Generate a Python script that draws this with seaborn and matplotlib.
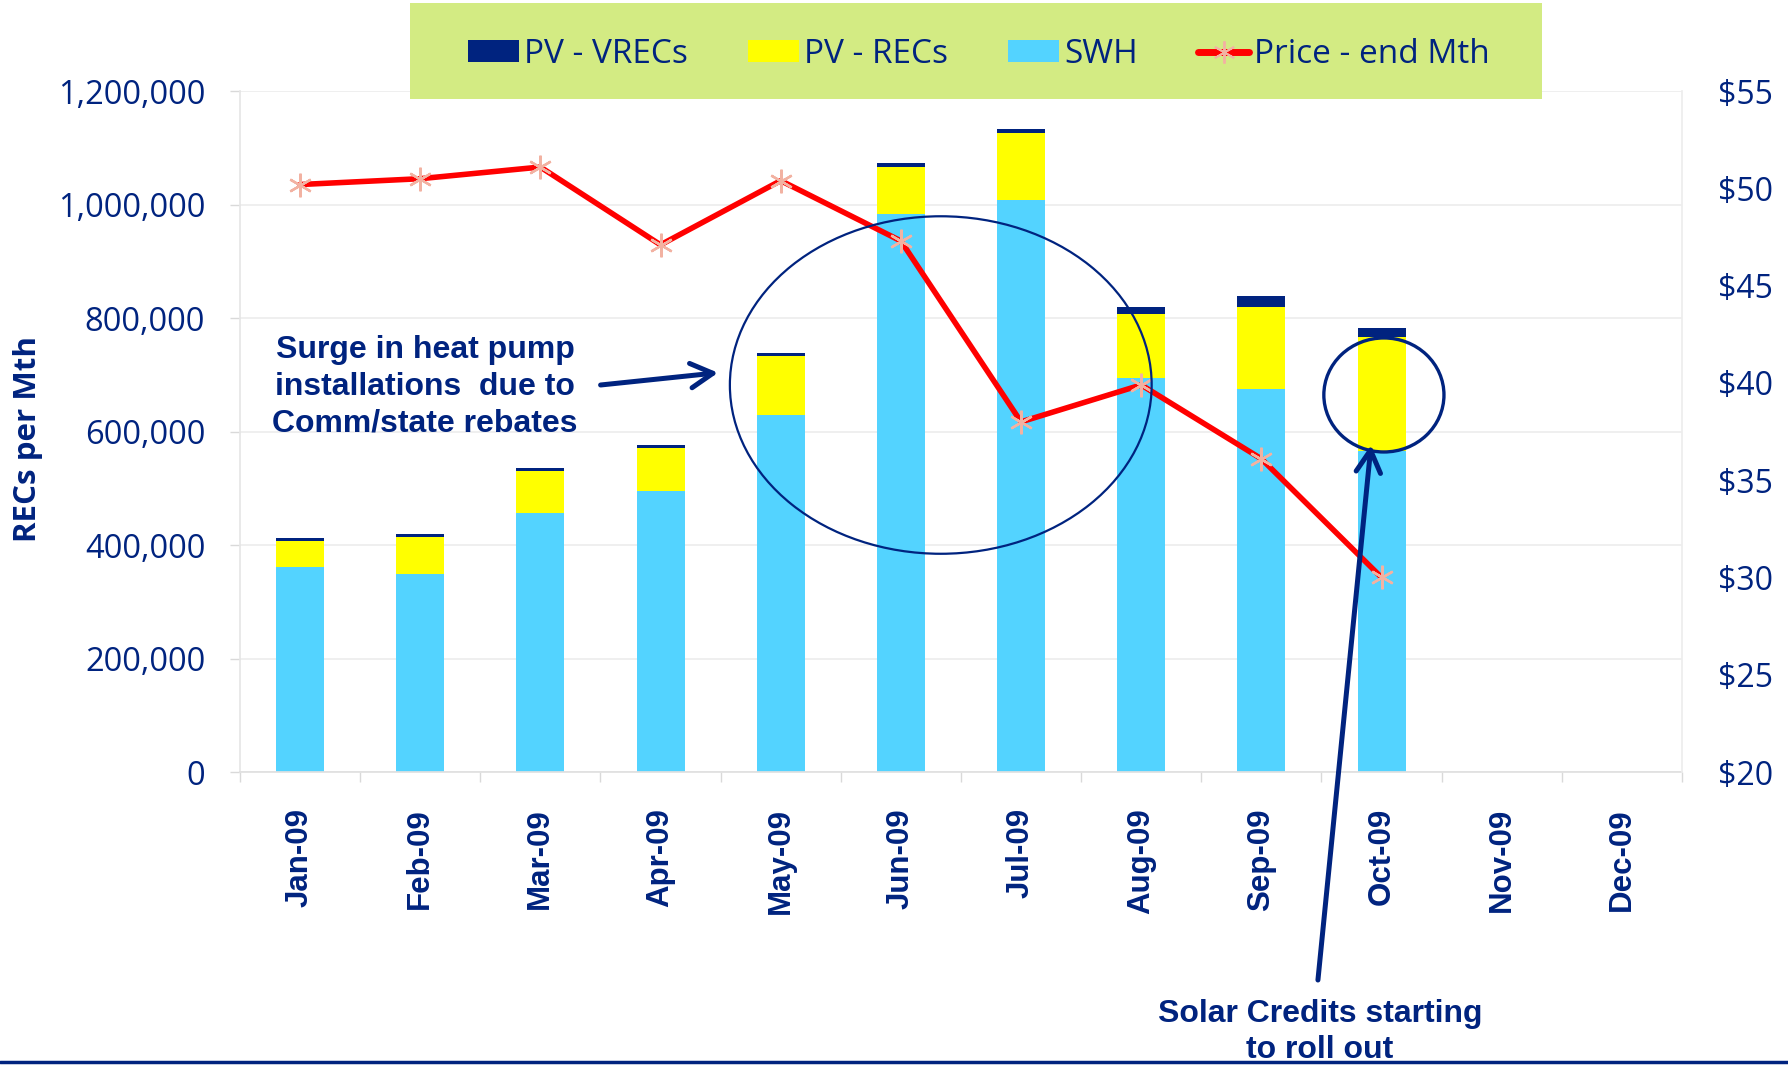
import numpy as np
import pandas as pd
import matplotlib
matplotlib.use("Agg")
import matplotlib.pyplot as plt
import seaborn as sns
from matplotlib.patches import Ellipse, Rectangle, Patch
from matplotlib.lines import Line2D
from matplotlib.ticker import FuncFormatter, FixedLocator

# ---------------- data ----------------
months = ["Jan-09", "Feb-09", "Mar-09", "Apr-09", "May-09", "Jun-09",
          "Jul-09", "Aug-09", "Sep-09", "Oct-09", "Nov-09", "Dec-09"]
swh = [362000, 349000, 457000, 495000, 629000, 984000,
       1009000, 695000, 675000, 566000, np.nan, np.nan]
pv_recs = [46000, 66000, 74000, 76000, 104000, 82000,
           117000, 113000, 145000, 201000, np.nan, np.nan]
pv_vrecs = [5000, 5000, 4000, 5000, 5000, 7000,
            7000, 12000, 19000, 16000, np.nan, np.nan]
price = [50.2, 50.5, 51.1, 47.1, 50.4, 47.3, 38.0, 39.9, 36.1, 30.0, np.nan, np.nan]
left_ticks = [0, 200000, 400000, 600000, 800000, 1000000, 1200000]
right_ticks = [20, 25, 30, 35, 40, 45, 50, 55]
legend_labels = ["PV - VRECs", "PV - RECs", "SWH", "Price - end Mth"]
note_surge = "Surge in heat pump\ninstallations  due to\nComm/state rebates"
note_solar = "Solar Credits starting\nto roll out"

NAVY = "#00237F"
YELLOW = "#FFFF00"
BLUE = "#53D3FF"
RED = "#FF0000"
PINK = "#F2B2A2"
GREEN = "#D3EB83"
GRID = "#EEEEEE"

sns.set_theme(style="white")
plt.rcParams["font.family"] = ["Open Sans", "DejaVu Sans"]

df = pd.DataFrame({"month": months, "swh": swh, "recs": pv_recs,
                   "vrecs": pv_vrecs, "price": price})
df["top_recs"] = df["swh"] + df["recs"]
df["top_vrecs"] = df["top_recs"] + df["vrecs"]

fig = plt.figure(figsize=(17.88, 10.65), dpi=100)
fig.patch.set_facecolor("white")
ax = fig.add_axes([0.1342, 0.2751, 0.8065, 0.6393])

for col, c in [("top_vrecs", NAVY), ("top_recs", YELLOW), ("swh", BLUE)]:
    sns.barplot(data=df, x="month", y=col, order=months, color=c, width=0.4,
                saturation=1, errorbar=None, linewidth=0, ax=ax, zorder=2)

ax.set_xlim(-0.5, 11.5)
ax.set_ylim(0, 1200000)
ax.set_yticks(left_ticks)
ax.yaxis.set_major_formatter(FuncFormatter(lambda v, p: f"{int(v):,}"))
ax.grid(axis="y", color=GRID, lw=1.3, zorder=0)
ax.set_axisbelow(True)
ax.set_xlabel("")
ax.set_ylabel("")
for s in ["top", "right"]:
    ax.spines[s].set_visible(False)
ax.spines["left"].set_color("#E6E6E6")
ax.spines["bottom"].set_color("#E0E0E0")

ax2 = ax.twinx()
sns.lineplot(x=df.index, y=df["price"], ax=ax2, color=RED, linewidth=4.0,
             marker=(6, 2, 0), markersize=17, markeredgecolor=PINK,
             markeredgewidth=1.7, zorder=5)
ax2.set_ylim(20, 55)
ax2.set_yticks(right_ticks)
ax2.yaxis.set_major_formatter(FuncFormatter(lambda v, p: f"${v:.0f}"))
ax2.set_ylabel("")
ax2.set_xlabel("")
for s in ["top", "left", "bottom"]:
    ax2.spines[s].set_visible(False)
ax2.spines["right"].set_color("#EDEDED")
ax2.grid(False)

ax.set_xticks(range(len(months)))
ax.set_xticklabels(months, rotation=90, fontweight="bold", fontsize=22.5,
                   color=NAVY, family=["Liberation Sans", "DejaVu Sans"])
ax.xaxis.set_minor_locator(FixedLocator(np.arange(-0.5, 12, 1)))
ax.tick_params(axis="x", which="major", bottom=True, length=0, pad=26)
ax.tick_params(axis="x", which="minor", bottom=True, length=7,
               color="#D9D9D9", width=1)
ax.tick_params(axis="y", left=True, length=7, color="#D9D9D9", width=1,
               pad=18, labelsize=23.5, labelcolor=NAVY)
ax2.tick_params(axis="y", right=True, length=0, pad=26, labelsize=23,
                labelcolor=NAVY)

# annotations
ax2.add_patch(Ellipse((0.486, 0.5684), 0.2925, 0.4957, transform=ax2.transAxes,
                      fill=False, edgecolor=NAVY, lw=1.6, zorder=8))
ax2.add_patch(Ellipse((0.7933, 0.5538), 0.0833, 0.1675, transform=ax2.transAxes,
                      fill=False, edgecolor=NAVY, lw=2.4, zorder=8))

arrow_kw = dict(arrowstyle="->,head_length=1.0,head_width=0.55", lw=3.6,
                color=NAVY, shrinkA=0, shrinkB=0, mutation_scale=16)
fig.add_artist(matplotlib.text.Annotation(
    "", xy=(0.4016, 0.6500), xytext=(0.3359, 0.6385),
    xycoords="figure fraction", textcoords="figure fraction",
    arrowprops=arrow_kw))
fig.add_artist(matplotlib.text.Annotation(
    "", xy=(0.7668, 0.5822), xytext=(0.7371, 0.0798),
    xycoords="figure fraction", textcoords="figure fraction",
    arrowprops=arrow_kw))

fig.text(0.2377, 0.6370, note_surge, ha="center", va="center",
         multialignment="center", fontsize=23, fontweight="bold", color=NAVY,
         family=["Liberation Sans", "DejaVu Sans"], linespacing=1.3)
fig.text(0.7383, 0.031, note_solar, ha="center", va="center",
         multialignment="center", fontsize=23, fontweight="bold", color=NAVY,
         family=["Liberation Sans", "DejaVu Sans"], linespacing=1.25)

fig.text(0.0157, 0.5878, "RECs per Mth", rotation=90, ha="center", va="center",
         fontsize=22.5, fontweight="bold", color=NAVY)

# legend
fig.add_artist(Rectangle((410 / 1788, 1 - 99 / 1065), 1132 / 1788, 96 / 1065,
                         transform=fig.transFigure, facecolor=GREEN,
                         edgecolor="none", zorder=1))
handles = [Patch(facecolor=NAVY, edgecolor="none"),
           Patch(facecolor=YELLOW, edgecolor="none"),
           Patch(facecolor=BLUE, edgecolor="none"),
           Line2D([], [], color=RED, lw=5, marker=(6, 2, 0), markersize=16,
                  markeredgecolor=PINK, markeredgewidth=1.4)]
leg = fig.legend(handles, legend_labels, loc="center",
                 bbox_to_anchor=(0.5476, 0.949), ncol=4, frameon=False,
                 fontsize=24, handlelength=1.53, handleheight=0.6,
                 handletextpad=0.15, columnspacing=1.8, labelcolor=NAVY)
leg.set_zorder(3)

fig.add_artist(Line2D([0, 1], [0.0028, 0.0028], transform=fig.transFigure,
                      color=NAVY, lw=2.5, zorder=10))

fig.savefig("out.png", dpi=100)
